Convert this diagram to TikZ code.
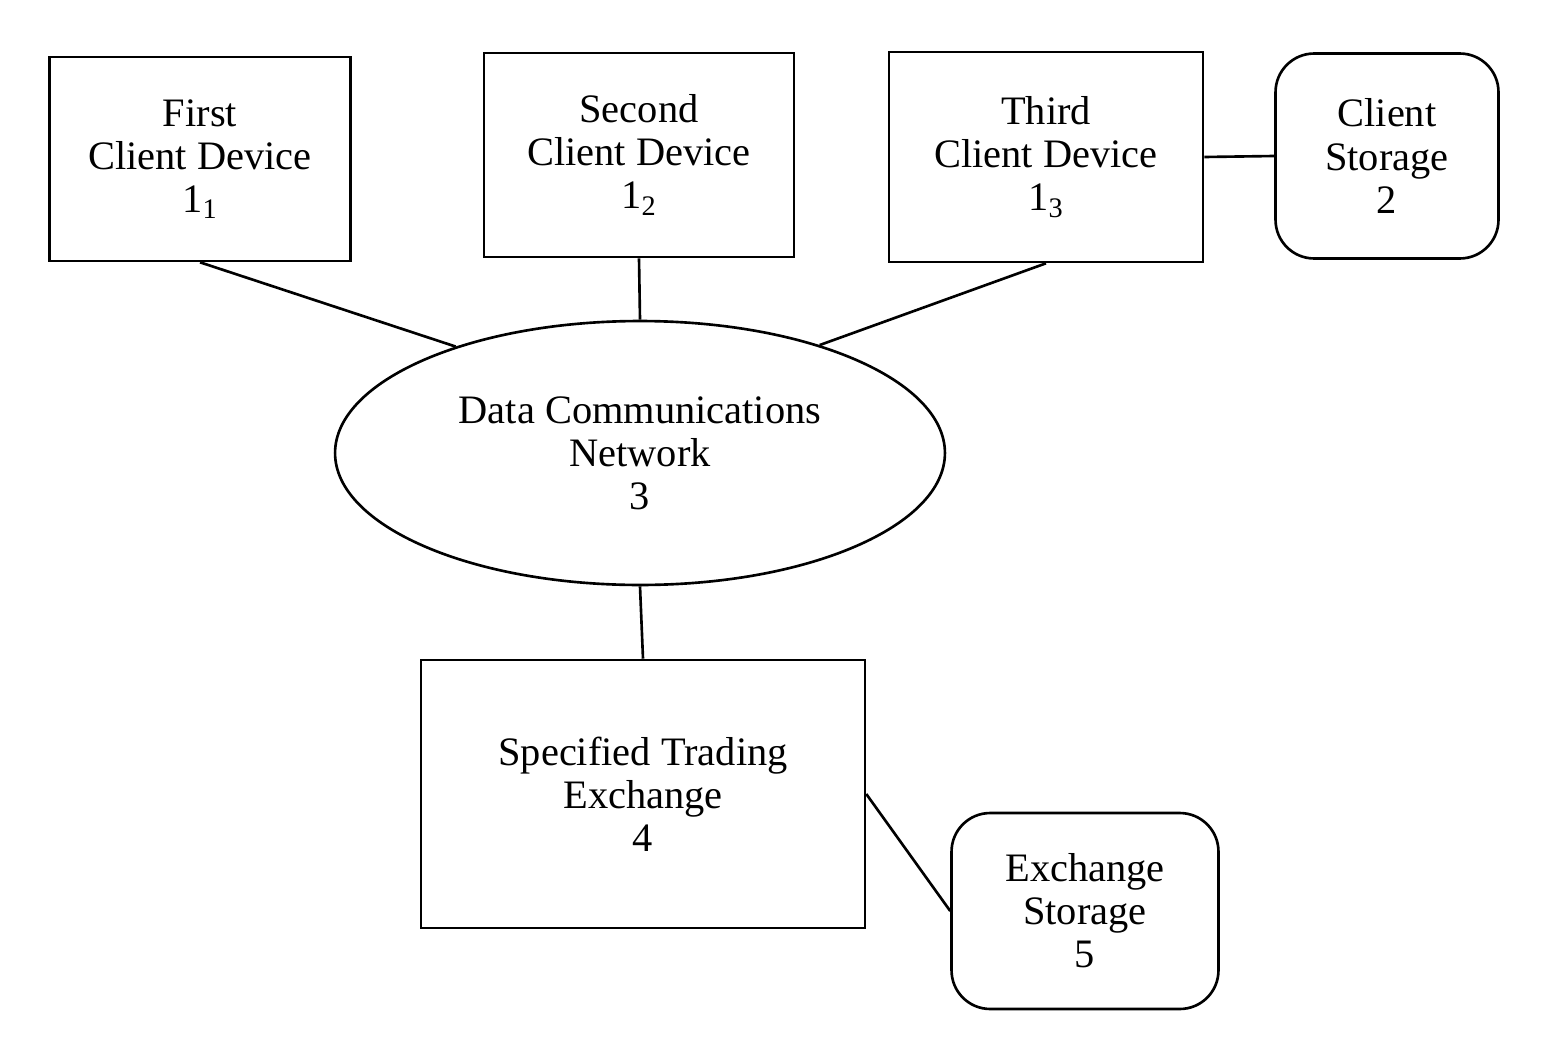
\documentclass[tikz,border=0pt]{standalone}
\usepackage{fontspec}
\setmainfont{Liberation Serif}
\usetikzlibrary{shapes.geometric}
\begin{document}
\begin{tikzpicture}[x=0.02cm,y=-0.02cm,
 every node/.style={font=\fontsize{23}{24.5}\selectfont, align=center, line width=1.5pt, draw, inner sep=0pt},
 box/.style={rectangle},
 rbox/.style={rectangle, rounded corners=22pt},
 conn/.style={line width=1.5pt}]
\useasboundingbox (0,0) rectangle (1552,1058);
\node[box, minimum width=6.02cm, minimum height=4.08cm] (c1) at (200,159) {First\\Client Device\\1\textsubscript{1}};
\node[box, minimum width=6.2cm, minimum height=4.08cm] (c2) at (639,155) {Second\\Client Device\\1\textsubscript{2}};
\node[box, minimum width=6.28cm, minimum height=4.2cm] (c3) at (1046,157) {Third\\Client Device\\1\textsubscript{3}};
\node[rbox, minimum width=4.46cm, minimum height=4.1cm] (cs) at (1387,156) {Client\\Storage\\2};
\node[ellipse, minimum width=12.2cm, minimum height=5.28cm] (net) at (640,453) {Data Communications\\Network\\3};
\node[box, minimum width=8.88cm, minimum height=5.36cm] (ex) at (643,794) {Specified Trading\\Exchange\\4};
\node[rbox, minimum width=5.34cm, minimum height=3.92cm] (es) at (1085,911) {Exchange\\Storage\\5};
\draw[conn] (c1.south) -- (net.150);
\draw[conn] (c2.south) -- (net.north);
\draw[conn] (c3.south) -- (net.31);
\draw[conn] (c3.east) -- (cs.west);
\draw[conn] (net.south) -- (ex.north);
\draw[conn] (ex.east) -- (es.west);
\end{tikzpicture}
\end{document}
